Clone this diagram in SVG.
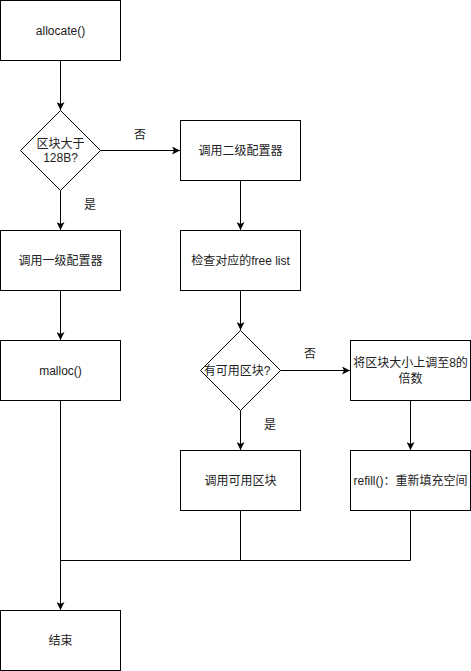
<svg xmlns="http://www.w3.org/2000/svg" width="471" height="671" viewBox="0 0 471 671">
<defs>
<style>
.box{fill:#ffffff;stroke:#000000;stroke-width:1}
.t{font-family:"Liberation Sans","Noto Sans CJK SC",sans-serif;font-size:12px;fill:#222222;text-anchor:middle}
.e{fill:none;stroke:#000000;stroke-width:1}
</style>
<marker id="arr" viewBox="0 0 8 8" refX="8" refY="4" markerWidth="8" markerHeight="8" markerUnits="userSpaceOnUse" orient="auto">
<path d="M0,0 L8,4 L0,8 L2,4 Z" fill="#000000"/>
</marker>
</defs>
<rect width="471" height="671" fill="#ffffff"/>
<g id="connectors">
<path class="e" d="M60.5,60.5 V110" marker-end="url(#arr)"/>
<path class="e" d="M100.5,150.5 H180" marker-end="url(#arr)"/>
<path class="e" d="M60.5,190.5 V230" marker-end="url(#arr)"/>
<path class="e" d="M60.5,290.5 V340" marker-end="url(#arr)"/>
<path class="e" d="M240.5,180.5 V230" marker-end="url(#arr)"/>
<path class="e" d="M240.5,290.5 V330" marker-end="url(#arr)"/>
<path class="e" d="M280.5,370.5 H350" marker-end="url(#arr)"/>
<path class="e" d="M240.5,410.5 V450" marker-end="url(#arr)"/>
<path class="e" d="M410.5,400.5 V450" marker-end="url(#arr)"/>
<path class="e" d="M60.5,400.5 V610" marker-end="url(#arr)"/>
<path class="e" d="M240.5,510.5 V560.5"/>
<path class="e" d="M410.5,510.5 V560.5 H60.5"/>
<text class="t" x="140" y="139">否</text>
<text class="t" x="90" y="209">是</text>
<text class="t" x="310" y="358">否</text>
<text class="t" x="270" y="429">是</text>
</g>
<g id="allocate">
<rect class="box" x="0.5" y="0.5" width="120" height="60"/>
<text class="t" x="60.5" y="35">allocate()</text>
</g>
<g id="check128">
<path class="box" d="M60.5,110.5 L100.5,150.5 L60.5,190.5 L20.5,150.5 Z"/>
<text class="t" x="60.5" y="148">区块大于</text>
<text class="t" x="60.5" y="162">128B?</text>
</g>
<g id="second">
<rect class="box" x="180.5" y="120.5" width="120" height="60"/>
<text class="t" x="240.5" y="155">调用二级配置器</text>
</g>
<g id="first">
<rect class="box" x="0.5" y="230.5" width="120" height="60"/>
<text class="t" x="60.5" y="265">调用一级配置器</text>
</g>
<g id="freelist">
<rect class="box" x="180.5" y="230.5" width="120" height="60"/>
<text class="t" x="240.5" y="265">检查对应的free list</text>
</g>
<g id="malloc">
<rect class="box" x="0.5" y="340.5" width="120" height="60"/>
<text class="t" x="60.5" y="375">malloc()</text>
</g>
<g id="available">
<path class="box" d="M240.5,330.5 L280.5,370.5 L240.5,410.5 L200.5,370.5 Z"/>
<text class="t" x="237" y="375">有可用区块?</text>
</g>
<g id="roundup">
<rect class="box" x="350.5" y="340.5" width="120" height="60"/>
<text class="t" x="410.5" y="367">将区块大小上调至8的</text>
<text class="t" x="410.5" y="383">倍数</text>
</g>
<g id="use">
<rect class="box" x="180.5" y="450.5" width="120" height="60"/>
<text class="t" x="240.5" y="485">调用可用区块</text>
</g>
<g id="refill">
<rect class="box" x="350.5" y="450.5" width="120" height="60"/>
<text class="t" x="410.5" y="485">refill()：重新填充空间</text>
</g>
<g id="end">
<rect class="box" x="0.5" y="610.5" width="120" height="60"/>
<text class="t" x="60.5" y="645">结束</text>
</g>
</svg>
